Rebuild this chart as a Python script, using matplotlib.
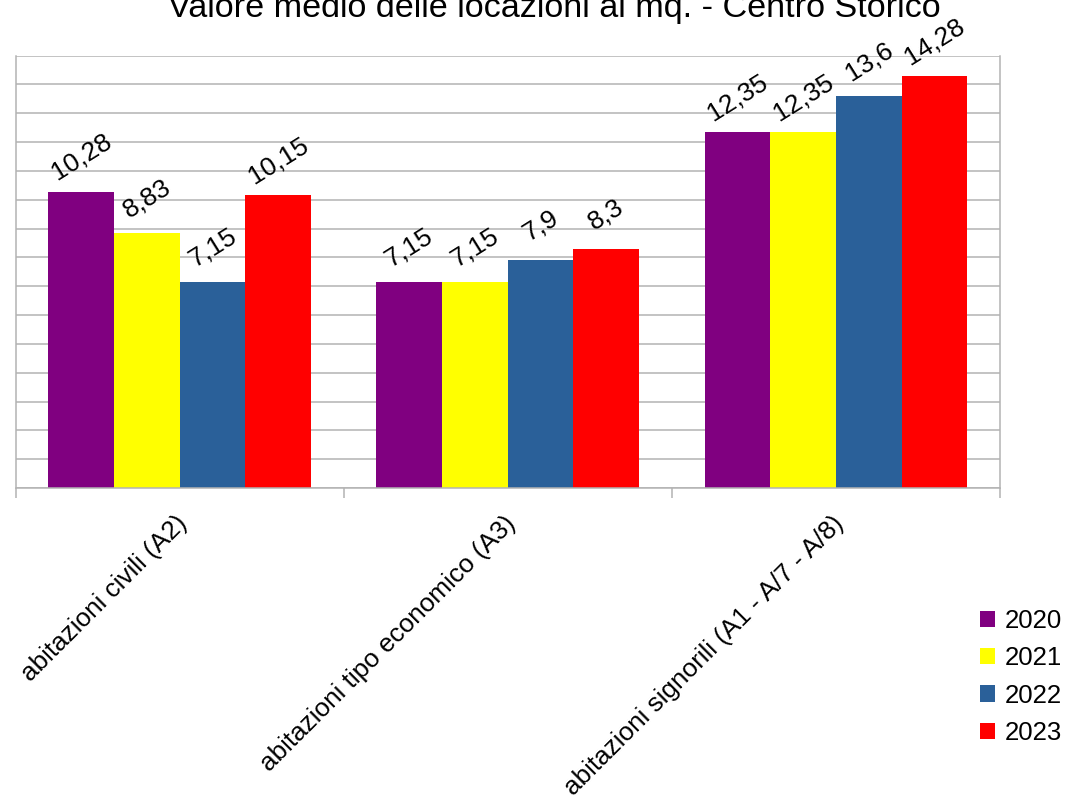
import matplotlib

matplotlib.use("Agg")
import matplotlib.pyplot as plt
import numpy as np
from matplotlib.patches import Patch

plt.rcParams["font.family"] = ["Liberation Sans", "DejaVu Sans"]

title = "Valore medio delle locazioni al mq. - Centro Storico"
categories = [
    "abitazioni civili (A2)",
    "abitazioni tipo economico (A3)",
    "abitazioni signorili (A1 - A/7 - A/8)",
]
years = ["2020", "2021", "2022", "2023"]
values_2020 = [10.28, 7.15, 12.35]
values_2021 = [8.83, 7.15, 12.35]
values_2022 = [7.15, 7.9, 13.6]
values_2023 = [10.15, 8.3, 14.28]
series = [values_2020, values_2021, values_2022, values_2023]
colors = ["#800080", "#ffff00", "#2a6099", "#ff0000"]

W, H = 1078, 800
fig = plt.figure(figsize=(W / 100, H / 100), dpi=100)
ax = fig.add_axes([15.5 / W, 1 - 488 / H, (1000 - 15.5) / W, (488 - 55.5) / H])

grid_color = "#b3b3b3"
x = np.arange(len(categories))
bar_w = 0.2
for k, (vals, col) in enumerate(zip(series, colors)):
    pos = x + (k - 1.5) * bar_w
    ax.bar(pos, vals, width=bar_w, color=col, zorder=2)
    for px, v in zip(pos, vals):
        label = f"{v:g}".replace(".", ",")
        ax.annotate(label, xy=(px, v), xytext=(0, 25), textcoords="offset points",
                    ha="center", va="center", rotation=32, fontsize=19)

ax.set_xlim(-0.5, len(categories) - 0.5)
ax.set_ylim(0, 15)
ax.set_yticks(np.arange(0, 16, 1))
ax.tick_params(axis="y", length=0, labelleft=False)
ax.grid(axis="y", color=grid_color, linewidth=1.1, zorder=0)

ax.set_xticks(np.arange(-0.5, len(categories), 1))
ax.set_xticklabels([])
ax.tick_params(axis="x", direction="out", length=7.5, width=1.1, color=grid_color)
for side in ["left", "right", "bottom", "top"]:
    ax.spines[side].set_color(grid_color)
    ax.spines[side].set_linewidth(1.1)
ax.spines["top"].set_visible(False)

for i, cat in enumerate(categories):
    ax.annotate(cat, xy=(i, 0), xycoords=("data", "axes fraction"),
                xytext=(3, -23), textcoords="offset points",
                ha="right", va="center", rotation=45, rotation_mode="anchor",
                fontsize=18.8)

fig.text(554.5 / W, 1 - 17 / H, title, ha="center", va="baseline", fontsize=24.6)

handles = [Patch(facecolor=c, edgecolor="none") for c in colors]
fig.legend(handles, years, loc="center left", bbox_to_anchor=(980 / W, 1 - 677 / H),
           frameon=False, fontsize=18.5, handlelength=0.6, handleheight=0.6,
           handletextpad=0.35, labelspacing=0.52, borderpad=0, borderaxespad=0)

fig.savefig("out.png", dpi=100)
